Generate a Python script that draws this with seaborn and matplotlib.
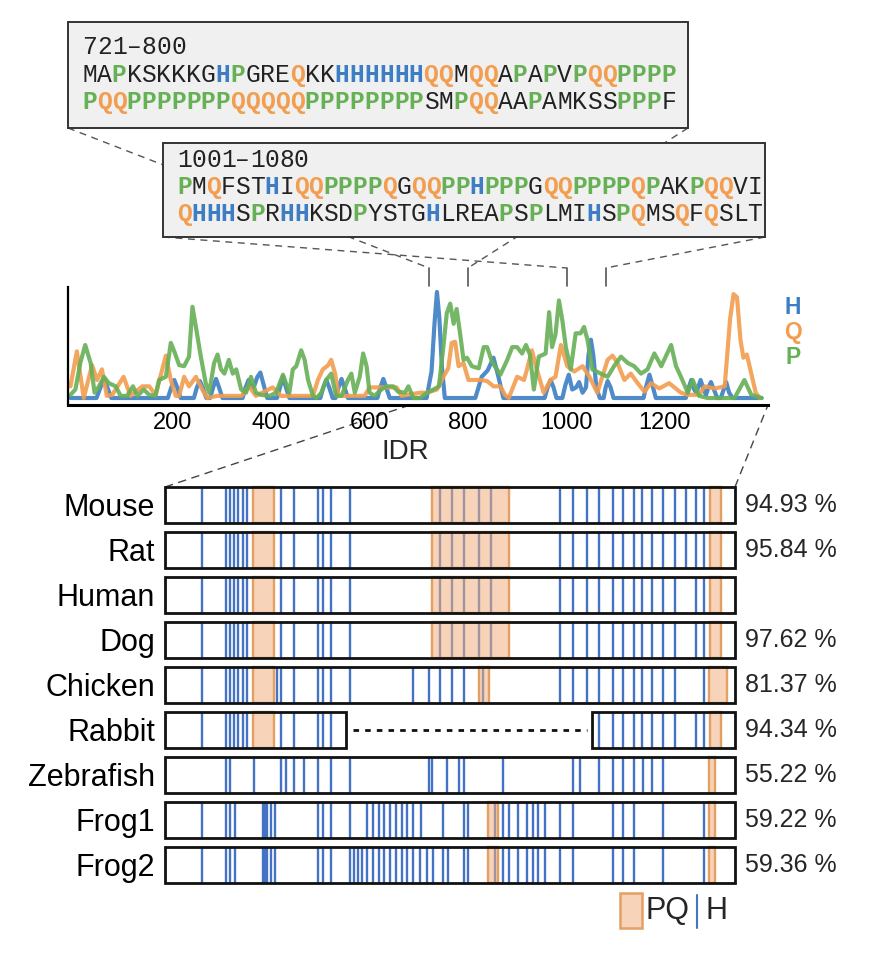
import matplotlib
matplotlib.use("Agg")
import matplotlib.pyplot as plt
import seaborn as sns
from matplotlib.colors import to_rgba
from matplotlib.patches import Rectangle

W, H = 872, 956

BLUE = "#3c7dc3"
ORANGE = "#f29d4f"
GREEN = "#66b055"
BAR_BLUE = "#4472c4"
PQ_EDGE = "#e3a062"
PQ_FILL = to_rgba("#f0b080", 0.55)

# ----------------------------------------
# Sequences shown in the two zoom boxes
# ----------------------------------------
seq1_title = "721–800"
seq1_rows = ["MAPKSKKKGHPGREQKKHHHHHHQQMQQAPAPVPQQPPPP",
             "PQQPPPPPPPQQQQQPPPPPPPPSMPQQAAPAMKSSPPPF"]
seq2_title = "1001–1080"
seq2_rows = ["PMQFSTHIQQPPPPQGQQPPHPPPGQQPPPPQPAKPQQVI",
             "QHHHSPRHHKSDPYSTGHLREAPSPLMIHSPQMSQFQSLT"]
zoom_ranges = [(721, 800), (1001, 1080)]
res_colors = {"P": GREEN, "Q": ORANGE, "H": BLUE}

# ----------------------------------------
# H / Q / P content along the IDR (residue, value)
# ----------------------------------------
h_pts = [(-8, 0), (45, 0), (53, 0.1), (60, 0.19), (67, 0.1), (75, 0),
         (190, 0), (197, 0.1), (203, 0.17), (209, 0.1), (216, 0),
         (243, 0), (249, 0.1), (255, 0.16), (261, 0.1), (268, 0),
         (276, 0), (282, 0.1), (288, 0.18), (294, 0.1), (301, 0),
         (342, 0), (348, 0.1), (354, 0.17), (360, 0.1), (366, 0.12),
         (372, 0.2), (378, 0.24), (385, 0.12), (392, 0),
         (412, 0), (418, 0.1), (424, 0.2), (430, 0.1), (437, 0),
         (500, 0), (506, 0.1), (512, 0.17), (518, 0.1), (525, 0),
         (531, 0), (537, 0.1), (543, 0.18), (549, 0.1), (556, 0),
         (616, 0), (622, 0.1), (628, 0.18), (634, 0.1), (641, 0),
         (716, 0), (726, 0.25), (732, 0.7), (737, 1.0), (742, 0.75),
         (747, 0.3), (753, 0),
         (815, 0), (828, 0.2), (840, 0.26), (852, 0.38), (862, 0.2), (872, 0),
         (956, 0), (962, 0.1), (968, 0.17), (974, 0.1), (980, 0),
         (992, 0), (998, 0.12), (1005, 0.22), (1012, 0.08), (1020, 0.1),
         (1026, 0.15), (1033, 0.05), (1040, 0.1), (1045, 0.4), (1050, 0.55),
         (1055, 0.4), (1061, 0.1), (1068, 0),
         (1076, 0), (1080, 0.1), (1084, 0.16), (1090, 0.1), (1096, 0),
         (1157, 0), (1163, 0.12), (1169, 0.22), (1175, 0.12), (1182, 0),
         (1243, 0), (1249, 0.1), (1254, 0.17), (1260, 0.08), (1264, 0.05),
         (1268, 0.1), (1273, 0.17), (1279, 0.08), (1284, 0.03), (1289, 0.1),
         (1294, 0.15), (1300, 0.08), (1307, 0), (1314, 0), (1320, 0.08),
         (1325, 0.15), (1331, 0.05), (1338, 0), (1397, 0)]

q_pts = [(-8, 0.11), (5, 0.44), (19, 0.0), (36, 0.31), (46, 0.17), (56, 0.27),
         (66, 0.02), (77, 0.03), (100, 0.2), (114, 0.02), (138, 0.11),
         (152, 0.11), (165, 0.03), (186, 0.4), (196, 0.17), (206, 0.02),
         (213, 0.02), (223, 0.2), (233, 0.11), (247, 0.2), (260, 0.08),
         (270, 0.0), (290, 0.02), (340, 0.02), (355, 0.11), (369, 0.02),
         (403, 0.1), (420, 0.02), (485, 0.02), (495, 0.17), (505, 0.27),
         (516, 0.31), (522, 0.36), (530, 0.23), (537, 0.02), (590, 0.02),
         (600, 0.1), (628, 0.1), (655, 0.1), (665, 0.02), (703, 0.05),
         (716, 0.05), (737, 0.08), (750, 0.2), (760, 0.28), (767, 0.52),
         (774, 0.53), (781, 0.3), (791, 0.33), (801, 0.17), (811, 0.17),
         (825, 0.17), (839, 0.16), (852, 0.11), (866, 0.11), (875, 0.03),
         (883, 0.0), (900, 0.2), (914, 0.17), (920, 0.27), (930, 0.45),
         (940, 0.27), (954, 0.05), (968, 0.17), (978, 0.2), (989, 0.5),
         (1002, 0.3), (1016, 0.25), (1033, 0.3), (1047, 0.2), (1063, 0.05),
         (1084, 0.36), (1094, 0.4), (1104, 0.33), (1118, 0.17), (1131, 0.23),
         (1145, 0.14), (1159, 0.06), (1172, 0.14), (1189, 0.09), (1209, 0.14),
         (1233, 0.05), (1247, 0.03), (1270, 0.03), (1281, 0.11), (1302, 0.09),
         (1322, 0.11), (1333, 0.75), (1340, 0.98), (1347, 0.95), (1354, 0.55),
         (1360, 0.38), (1367, 0.41), (1375, 0.25), (1385, 0.05), (1393, 0.0)]

p_pts = [(-8, 0.03), (2, 0.08), (12, 0.33), (22, 0.50), (33, 0.33), (41, 0.05),
         (50, 0.11), (60, 0.20), (70, 0.14), (84, 0.11), (94, 0.02),
         (107, 0.02), (119, 0.11), (128, 0.02), (141, 0.08), (152, 0.03),
         (165, 0.02), (172, 0.17), (186, 0.20), (196, 0.52), (203, 0.44),
         (213, 0.31), (223, 0.30), (233, 0.39), (240, 0.86), (247, 0.67),
         (257, 0.39), (267, 0.14), (274, 0.05), (284, 0.33), (291, 0.41),
         (298, 0.27), (305, 0.23), (314, 0.36), (322, 0.23), (329, 0.27),
         (339, 0.08), (349, 0.05), (359, 0.20), (369, 0.05), (379, 0.03),
         (397, 0.02), (410, 0.05), (424, 0.22), (437, 0.05), (444, 0.27),
         (451, 0.30), (461, 0.45), (468, 0.36), (475, 0.17), (485, 0.02),
         (492, 0.00), (502, 0.05), (512, 0.17), (522, 0.23), (532, 0.02),
         (543, 0.02), (556, 0.17), (563, 0.23), (570, 0.05), (580, 0.20),
         (587, 0.42), (594, 0.30), (600, 0.05), (610, 0.02), (624, 0.08),
         (634, 0.11), (648, 0.11), (658, 0.06), (672, 0.05), (679, 0.11),
         (689, 0.00), (703, 0.00), (717, 0.05), (730, 0.08), (741, 0.11),
         (750, 0.48), (757, 0.80), (764, 0.89), (771, 0.70), (777, 0.84),
         (784, 0.61), (791, 0.36), (798, 0.38), (808, 0.30), (822, 0.28),
         (832, 0.48), (839, 0.48), (849, 0.34), (866, 0.22), (880, 0.36),
         (890, 0.48), (900, 0.48), (910, 0.42), (918, 0.50), (926, 0.41),
         (934, 0.08), (944, 0.39), (958, 0.42), (965, 0.81), (971, 0.48),
         (978, 0.60), (985, 0.92), (992, 0.73), (999, 0.48), (1009, 0.27),
         (1019, 0.61), (1029, 0.61), (1036, 0.67), (1043, 0.55), (1053, 0.27),
         (1070, 0.23), (1084, 0.20), (1097, 0.30), (1111, 0.39), (1125, 0.33),
         (1138, 0.30), (1152, 0.23), (1165, 0.27), (1179, 0.42), (1193, 0.30),
         (1213, 0.50), (1223, 0.30), (1233, 0.20), (1247, 0.05), (1257, 0.17),
         (1270, 0.02), (1287, 0.00), (1342, 0.00), (1362, 0.17), (1376, 0.03),
         (1397, 0.00)]

idr_ticks = [200, 400, 600, 800, 1000, 1200]

# ----------------------------------------
# Species alignment (positions along the IDR)
# ----------------------------------------
species = ["Mouse", "Rat", "Human", "Dog", "Chicken", "Rabbit",
           "Zebrafish", "Frog1", "Frog2"]
identity = ["94.93 %", "95.84 %", "", "97.62 %", "81.37 %", "94.34 %",
            "55.22 %", "59.22 %", "59.36 %"]

mouse_h = [90, 149, 160, 170, 180, 191, 202, 284, 318, 377, 389, 407, 455,
           675, 706, 734, 771, 801, 970, 1003, 1037, 1067, 1101, 1126, 1152,
           1171, 1196, 1223, 1253, 1280, 1304, 1324]
human_h = [90, 149, 160, 170, 180, 191, 202, 284, 318, 377, 389, 407, 455,
           675, 706, 734, 771, 801, 970, 1003, 1037, 1067, 1101, 1126, 1152,
           1171, 1196, 1223, 1253, 1304, 1324]
chicken_h = [90, 149, 160, 170, 180, 191, 202, 275, 284, 318, 377, 389, 407,
             455, 610, 649, 675, 706, 734, 781, 970, 1003, 1037, 1067, 1101,
             1126, 1152, 1171, 1196, 1223, 1253, 1324]
rabbit_h = [90, 149, 160, 170, 180, 191, 202, 284, 318, 377, 389, 407,
            1067, 1101, 1126, 1152, 1171, 1196, 1223, 1253, 1304, 1324]
zebrafish_h = [149, 160, 219, 284, 297, 318, 342, 377, 407, 455, 649, 657,
               692, 722, 734, 829, 1001, 1019, 1067, 1101, 1126, 1152, 1175,
               1196, 1223]
frog1_h = [90, 149, 160, 172, 240, 246, 251, 260, 270, 377, 389, 407, 455,
           495, 510, 525, 538, 553, 567, 581, 595, 610, 628, 684, 734, 745,
           811, 831, 846, 868, 888, 905, 917, 933, 970, 1003, 1101, 1126,
           1152, 1223, 1324]
frog2_h = [90, 149, 160, 172, 240, 246, 251, 260, 270, 377, 389, 407, 455,
           464, 474, 484, 495, 510, 525, 538, 553, 567, 581, 595, 610, 626,
           643, 659, 684, 696, 734, 745, 811, 831, 846, 868, 888, 905, 917,
           933, 970, 1003, 1101, 1126, 1152, 1223, 1324]

mammal_pq = [(215, 268), (655, 846), (1339, 1365)]
chicken_pq = [(215, 268), (770, 797), (1337, 1381)]
rabbit_pq = [(215, 268), (1339, 1365)]
zebrafish_pq = [(1337, 1351)]
frog_pq = [(793, 818), (1337, 1351)]

full_seg = [(0, 1400)]
rabbit_seg = [(0, 445), (1049, 1400)]
rabbit_gap = (462, 1036)

h_sites = [mouse_h, mouse_h, human_h, human_h, chicken_h, rabbit_h,
           zebrafish_h, frog1_h, frog2_h]
pq_sites = [mammal_pq, mammal_pq, mammal_pq, mammal_pq, chicken_pq,
            rabbit_pq, zebrafish_pq, frog_pq, frog_pq]
segments = [full_seg, full_seg, full_seg, full_seg, full_seg, rabbit_seg,
            full_seg, full_seg, full_seg]

# ----------------------------------------
# Figure
# ----------------------------------------
sns.set_theme(style="white")
plt.rcParams["font.family"] = ["Liberation Sans", "DejaVu Sans"]

fig = plt.figure(figsize=(W / 100, H / 100), dpi=100)

ov = fig.add_axes([0, 0, 1, 1])
ov.set_xlim(0, W)
ov.set_ylim(H, 0)
ov.axis("off")

# ---- IDR composition plot ----
ax = fig.add_axes([68 / W, 1 - 405 / H, 700 / W, 118 / H])
ax.set_facecolor("none")

for pts, col in [(h_pts, BLUE), (q_pts, ORANGE), (p_pts, GREEN)]:
    xs = [p[0] for p in pts]
    ys = [p[1] for p in pts]
    sns.lineplot(x=xs, y=ys, ax=ax, color=col, lw=3.0, alpha=0.9,
                 estimator=None, sort=False, solid_joinstyle="round",
                 solid_capstyle="round")

ax.set_xlim(-13, 1410)
ax.set_ylim(-0.066, 1.047)
ax.set_yticks([])
ax.set_xticks(idr_ticks)
ax.set_xticklabels([str(t) for t in idr_ticks])
ax.tick_params(axis="x", length=0, pad=5, labelsize=17, colors="black")
ax.spines[["top", "right"]].set_visible(False)
ax.spines["left"].set_linewidth(1.6)
ax.spines["bottom"].set_linewidth(2.2)
ax.spines["left"].set_color("black")
ax.spines["bottom"].set_color("black")

ov.text(405, 452, "IDR", fontsize=20, ha="center", va="center")
ov.text(793, 308, "H", fontsize=16.5, fontweight="bold", color=BLUE,
        ha="center", va="center")
ov.text(793, 333, "Q", fontsize=16.5, fontweight="bold", color=ORANGE,
        ha="center", va="center")
ov.text(793, 358, "P", fontsize=16.5, fontweight="bold", color=GREEN,
        ha="center", va="center")

# ---- zoom boxes ----
MONO_FS = 17.7


def seq_box(x0, y0, x1, y1, title, rows, tx, ty, pitch, z):
    ov.add_patch(Rectangle((x0, y0), x1 - x0, y1 - y0, facecolor="#f0f0f0",
                           edgecolor="#333333", lw=1.4, zorder=z))
    for i, ch in enumerate(title):
        ov.text(tx + (i + 0.5) * pitch, ty[0], ch, family="Liberation Mono",
                fontsize=MONO_FS, ha="center", va="center", color="#222222",
                zorder=z + 1)
    for row, y in zip(rows, ty[1:]):
        for i, ch in enumerate(row):
            col = res_colors.get(ch, "#222222")
            ov.text(tx + (i + 0.5) * pitch, y, ch, family="Liberation Mono",
                    fontsize=MONO_FS, ha="center", va="center", color=col,
                    fontweight="bold" if ch in res_colors else "normal",
                    zorder=z + 1)


box1 = (68, 22, 688, 128)
box2 = (163, 143, 765, 237)
seq_box(*box1, seq1_title, seq1_rows, 82, [47, 75, 102], 14.85, 3)
seq_box(*box2, seq2_title, seq2_rows, 177, [160, 187, 214], 14.63, 5)

# brackets on the plot and dashed connectors to the boxes
dash = dict(color="#555555", lw=1.0, ls=(0, (5, 4)), zorder=1)
corners = [((box1[0], box1[3]), (box1[2], box1[3])),
           ((box2[0], box2[3]), (box2[2], box2[3]))]
for (r0, r1), (c0, c1) in zip(zoom_ranges, corners):
    for r, c in [(r0, c0), (r1, c1)]:
        bx = ax.transData.transform((r, 0))[0]
        ov.plot([c[0], bx], [c[1], 268], **dash)
        ov.plot([bx, bx], [268, 286], color="#555555", lw=1.2, zorder=1)

# ---- species alignment ----
top_px, bot_px = 477.5, 892.0
sa = fig.add_axes([165 / W, 1 - bot_px / H, 570 / W, (bot_px - top_px) / H])
sa.set_facecolor("none")
sa.set_xlim(0, 1400)
sa.set_ylim(8.6, -0.6)
for s in sa.spines.values():
    s.set_visible(False)
sa.set_xticks([])
sa.set_yticks(range(len(species)))
sa.set_yticklabels(species, fontsize=22)
sa.tick_params(axis="y", length=0, pad=7, colors="black")

for i in range(len(species)):
    sa.vlines(h_sites[i], i - 0.4, i + 0.4, color=BAR_BLUE, lw=1.7, zorder=2)
    for a, b in pq_sites[i]:
        sa.add_patch(Rectangle((a, i - 0.4), b - a, 0.8, facecolor=PQ_FILL,
                               edgecolor=PQ_EDGE, lw=1.7, zorder=3))
    for a, b in segments[i]:
        sa.add_patch(Rectangle((a, i - 0.4), b - a, 0.8, fill=False,
                               edgecolor="#111111", lw=2.0, zorder=5,
                               clip_on=False))
    if identity[i]:
        sa.annotate(identity[i], xy=(1400, i), xytext=(7, 0),
                    textcoords="offset points", ha="left", va="center",
                    fontsize=18, annotation_clip=False)

sa.plot(list(rabbit_gap), [5, 5], color="#111111", lw=2.0,
        ls=(0, (2, 2.2)), zorder=4)

# dashed lines from the IDR axis down to the alignment
ov.plot([165, 410], [487, 405], color="#444444", lw=1.0, ls=(0, (6, 4)))
ov.plot([735, 768], [487, 405], color="#444444", lw=1.0, ls=(0, (6, 4)))

# ---- legend ----
ov.add_patch(Rectangle((620, 893), 22, 35, facecolor=PQ_FILL,
                       edgecolor=PQ_EDGE, lw=1.8))
ov.text(645, 911, "PQ", fontsize=22, ha="left", va="center")
ov.plot([697, 697], [895, 928], color=BAR_BLUE, lw=1.5)
ov.text(705, 911, "H", fontsize=22, ha="left", va="center")

fig.savefig("out.png", dpi=100)
plt.close(fig)

print("Figure saved")
